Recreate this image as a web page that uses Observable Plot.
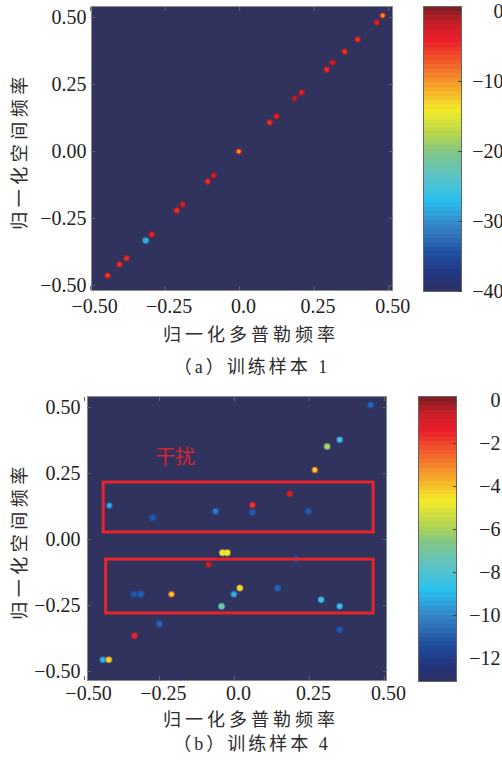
<!DOCTYPE html>
<html><head><meta charset="utf-8">
<script src="https://cdn.jsdelivr.net/npm/d3@7"></script>
<script src="https://cdn.jsdelivr.net/npm/@observablehq/plot@0.6"></script>
<style>
body{margin:0;background:#fff;}
#page{position:relative;width:502px;height:767px;overflow:hidden;background:#fff;}
.box{position:absolute;}
.box svg{overflow:visible;background:transparent;}
.lbl{position:absolute;white-space:nowrap;font-family:"Liberation Serif","Noto Sans CJK SC";color:#2b2b2b;line-height:1;}
</style></head><body><div id="page"></div>
<script>
// ---------- data ----------
// Panel (a): training sample 1
const aX    = [-0.443,-0.403,-0.379,-0.315,-0.295,-0.211,-0.191,-0.107,-0.087,-0.003,0.101,0.124,0.185,0.208,0.292,0.312,0.352,0.396,0.460,0.480];
const aY    = [-0.463,-0.422,-0.399,-0.332,-0.310,-0.220,-0.198,-0.112,-0.090,0.000,0.108,0.131,0.198,0.220,0.306,0.332,0.373,0.418,0.481,0.507];
const aVal  = [-1.2,-1.2,-1.2,-29,-1,-1.2,-0.3,-1.2,-0.3,-1.5,-1.2,-0.8,-0.2,-0.6,-1.2,-0.3,-1.2,-1.2,-0.8,-1.5];
const aCore = [-5.5,-5,-5,-28,-4.5,-5,-2,-5,-2,-10,-5,-4,-1.5,-3.5,-5,-2,-5,-5,-3.5,-10];
// Panel (b): training sample 4
const bX    = [-0.417,-0.272,-0.063,0.454,0.351,0.309,0.268,0.184,0.060,0.060,0.247,-0.040,-0.024,-0.086,-0.335,-0.312,-0.210,-0.002,0.018,-0.043,-0.250,-0.333,-0.439,-0.419,0.206,0.144,0.289,0.351,0.351];
const bY    = [0.129,0.083,0.107,0.510,0.378,0.353,0.264,0.174,0.131,0.103,0.107,-0.050,-0.050,-0.095,-0.207,-0.207,-0.207,-0.207,-0.184,-0.253,-0.319,-0.364,-0.455,-0.455,-0.073,-0.184,-0.228,-0.253,-0.342];
const bVal  = [-10.5,-11.5,-11.0,-11.3,-9.5,-6.5,-2.5,-0.5,-1.0,-11.3,-11.5,-5.0,-4.5,-0.3,-11.5,-11.3,-2.5,-10.0,-4.0,-7.8,-11.3,-1.0,-9.8,-3.5,-11.5,-11.3,-9.3,-9.5,-11.5];
const bCore = [-9.0,-11.0,-10.2,-10.8,-8.0,-5.8,-4.8,-1.2,-2.0,-11.0,-11.0,-4.8,-4.8,-0.8,-11.0,-11.0,-5.0,-9.0,-5.0,-7.0,-10.8,-1.5,-9.0,-5.0,-11.0,-10.8,-8.2,-8.5,-11.0];
// interference boxes in (b)
const boxX1 = [-0.436,-0.428], boxX2 = [0.464,0.464];
const boxY1 = [0.216,-0.076],  boxY2 = [0.027,-0.280];
const noteX = [-0.197], noteY = [0.311], noteText = ["干扰"];
// ticks
const posTicks = [-0.5,-0.25,0,0.25,0.5];
const xTickLabels = ["−0.50","−0.25","0.0","0.25","0.50"];
const yTickLabels = ["−0.50","−0.25","0.00","0.25","0.50"];
const cbTicksA = [-40,-30,-20,-10,0], cbLabelsA = ["−40","−30","−20","−10","0"];
const cbTicksB = [-12,-10,-8,-6,-4,-2,0], cbLabelsB = ["−12","−10","−8","−6","−4","−2","0"];
const cbDomainA = [-40, 0.7], cbDomainB = [-13.07, 0.19];
// texts
const yTitle = "归一化空间频率", xTitle = "归一化多普勒频率";
const capA = "（a）训练样本 1", capB = "（b）训练样本 4";

// ---------- style ----------
const BG = "#31335f";
const stopT = [0,0.06,0.13,0.225,0.32,0.41,0.49,0.55,0.635,0.75,0.88,0.94,1];
const stopC = ["#2e3062","#22357f","#1f4e9e","#3582c6","#29c0ee","#5ec3c2","#82c684","#b5d54f","#f4ea28","#f58a2a","#ec1e2a","#c81f27","#7a1c22"];
const colorOpts = ([lo,hi]) => ({type:"linear", domain: stopT.map(t => lo + (hi-lo)*t), range: stopC, clamp:true});
const font = {fontFamily:"Liberation Serif", fontSize:"20px", background:"transparent", color:"#222"};
const page = document.getElementById("page");
function place(node, left, top){ const d=document.createElement("div"); d.className="box"; d.style.left=left+"px"; d.style.top=top+"px"; d.appendChild(node); page.appendChild(d); }
function label(text, cx, cy, size, spacing, rotate){
  const d=document.createElement("div"); d.className="lbl"; d.textContent=text;
  d.style.fontSize=size+"px"; d.style.letterSpacing=spacing+"px"; d.style.left=cx+"px"; d.style.top=cy+"px";
  d.style.transform="translate(-50%,-50%)"+(rotate?" rotate(-90deg)":"");
  page.appendChild(d);
}
const fmt = (ticks, labels) => d => labels[ticks.indexOf(d)];

function mainPlot({pts, xdom, ydom, cdom, width, marginLeft, rScale, glow, ypad, xpad, extra=[]}){
  return Plot.plot({
    width, height:315, marginLeft, marginRight:0, marginTop:6, marginBottom:25,
    x:{domain:xdom, label:null}, y:{domain:ydom, label:null}, color:colorOpts(cdom), style:font,
    marks:[
      Plot.frame({fill:BG}),
      Plot.dot(pts,{x:"x",y:"y",r:d=>rScale(d)+glow,fill:"v",fillOpacity:0.35}),
      Plot.dot(pts,{x:"x",y:"y",r:d=>rScale(d),fill:"v"}),
      Plot.dot(pts,{x:"x",y:"y",r:d=>rScale(d)*0.45,fill:"c"}),
      ...extra,
      Plot.frame({stroke:"#8c8c8c"}),
      Plot.axisX({ticks:posTicks, tickFormat:fmt(posTicks,xTickLabels), tickSize:0, tickPadding:xpad, dx:4, label:null}),
      Plot.axisX({ticks:posTicks, tickFormat:()=>"", tickSize:-4, stroke:"#666", label:null}),
      Plot.axisX({anchor:"top", ticks:posTicks, tickFormat:()=>"", tickSize:-4, stroke:"#666", label:null}),
      Plot.axisY({ticks:posTicks, tickFormat:fmt(posTicks,yTickLabels), tickSize:0, tickPadding:ypad, label:null}),
      Plot.axisY({ticks:posTicks, tickFormat:()=>"", tickSize:-4, stroke:"#666", label:null}),
      Plot.axisY({anchor:"right", ticks:posTicks, tickFormat:()=>"", tickSize:-4, stroke:"#666", label:null})
    ]
  });
}
function colorbar({cdom, ticks, labels, barW, width, pad}){
  return Plot.plot({
    width, height:300, marginLeft:0, marginRight:width-barW, marginTop:6, marginBottom:300-6-285,
    x:{domain:[0,1], axis:null}, y:{domain:cdom, label:null}, color:colorOpts(cdom), style:font,
    marks:[
      Plot.raster({x1:0,x2:1,y1:cdom[0],y2:cdom[1],width:1,height:64,fill:(x,y)=>y,imageRendering:"pixelated"}),
      Plot.frame({stroke:"#666"}),
      Plot.axisY({anchor:"right", ticks, tickFormat:fmt(ticks,labels), tickSize:0, tickPadding:pad, textAnchor:"end", label:null}),
      Plot.axisY({anchor:"right", ticks, tickFormat:()=>"", tickSize:-4, stroke:"#444", label:null})
    ]
  });
}

// ---------- panel (a) ----------
const ptsA = aX.map((x,i)=>({x, y:aY[i], v:aVal[i], c:aCore[i]}));
place(mainPlot({pts:ptsA, xdom:[-0.497,0.513], ydom:[-0.519,0.541], cdom:cbDomainA, width:392, marginLeft:91, rScale:()=>4.3, glow:1.8, ypad:5, xpad:8}), 0, 0);
place(colorbar({cdom:cbDomainA, ticks:cbTicksA, labels:cbLabelsA, barW:38, width:79, pad:42}), 423, 0);
label(yTitle, 20, 151, 18, 4.5, true);
label(xTitle, 251, 335, 18, 4, false);
label(capA, 252, 367, 18, 3, false);

// ---------- panel (b) ----------
const ptsB = bX.map((x,i)=>({x, y:bY[i], v:bVal[i], c:bCore[i]}));
const boxes = boxX1.map((x1,i)=>({x1, x2:boxX2[i], y1:boxY1[i], y2:boxY2[i]}));
const notes = noteX.map((x,i)=>({x, y:noteY[i], t:noteText[i]}));
const extraB = [
  Plot.rect(boxes,{x1:"x1",x2:"x2",y1:"y1",y2:"y2",fill:"none",stroke:"#e8232b",strokeWidth:3}),
  Plot.text(notes,{x:"x",y:"y",text:"t",fill:"#d8242c",fontSize:20,fontFamily:"Noto Sans CJK SC"})
];
place(mainPlot({pts:ptsB, xdom:[-0.49,0.507], ydom:[-0.534,0.542], cdom:cbDomainB, width:386, marginLeft:87, rScale:d=>d.v<-10.8?4.2:3.2, glow:1.6, ypad:7, xpad:5, extra:extraB}), 0, 390);
place(colorbar({cdom:cbDomainB, ticks:cbTicksB, labels:cbLabelsB, barW:38, width:84, pad:44}), 418, 390);
label(yTitle, 20, 541, 18, 4.5, true);
label(xTitle, 251, 720, 18, 4, false);
label(capB, 252, 744, 18, 3, false);
</script></body></html>
